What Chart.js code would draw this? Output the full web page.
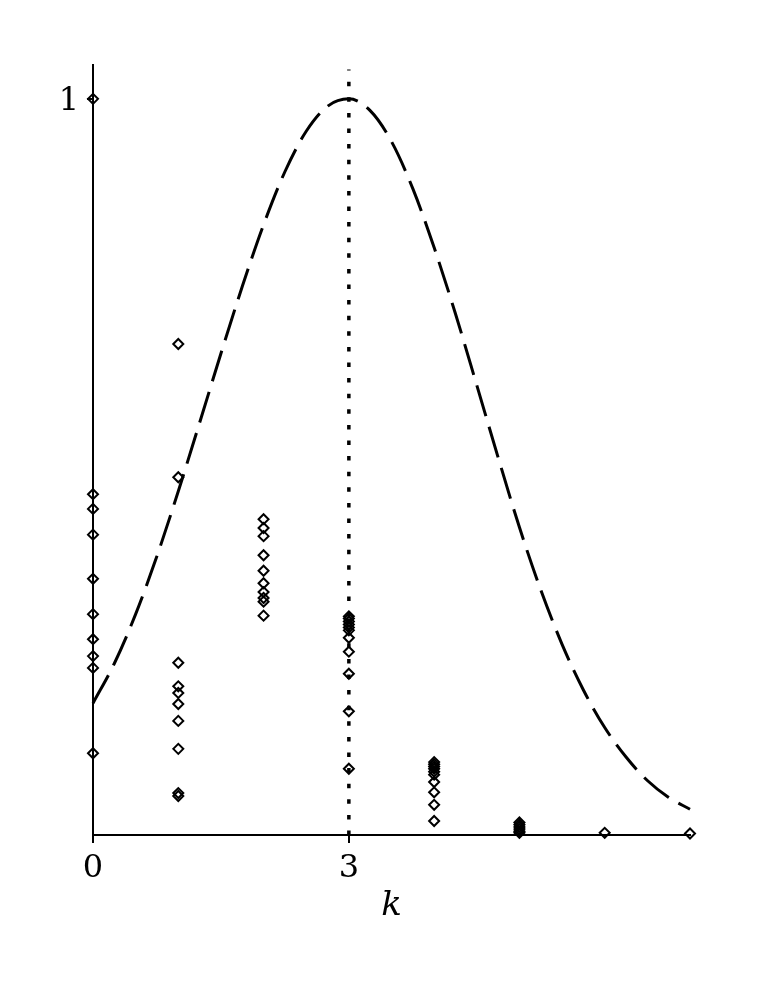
<!DOCTYPE html>
<html>
<head>
<meta charset="utf-8">
<script src="https://cdn.jsdelivr.net/npm/chart.js@4.4.1/dist/chart.umd.min.js"></script>
<style>
  body { margin: 0; background: #fff; }
  canvas { display: block; }
</style>
</head>
<body>
<canvas id="chart" width="763" height="987"></canvas>
<script>
const valsK0 = [1.0, 0.463, 0.443, 0.408, 0.348, 0.300, 0.266, 0.243, 0.227, 0.111];
const valsK1 = [0.667, 0.486, 0.234, 0.202, 0.193, 0.178, 0.155, 0.117, 0.057, 0.053];
const valsK2 = [0.429, 0.417, 0.406, 0.380, 0.359, 0.342, 0.330, 0.322, 0.317, 0.298];
const valsK3 = [0.297, 0.294, 0.290, 0.286, 0.282, 0.278, 0.268, 0.249, 0.219, 0.168, 0.090];
const valsK4 = [0.099, 0.096, 0.093, 0.090, 0.086, 0.082, 0.072, 0.058, 0.041, 0.019];
const valsK5 = [0.017, 0.014, 0.011, 0.008, 0.005, 0.003];
const valsK6 = [0.003];
const valsK7 = [0.002];

// dashed reference curve
const curveK = [0, 0.25, 0.5, 0.75, 1, 1.25, 1.5, 1.75, 2, 2.25, 2.5, 2.75, 3,
  3.25, 3.5, 3.75, 4, 4.25, 4.5, 4.75, 5, 5.25, 5.5, 5.75, 6, 6.25, 6.5, 6.75, 7];
const curveY = [0.179, 0.233, 0.300, 0.379, 0.467, 0.560, 0.654, 0.745, 0.829, 0.901, 0.956, 0.990, 1.0,
  0.984, 0.942, 0.878, 0.798, 0.708, 0.611, 0.513, 0.418, 0.333, 0.259, 0.197, 0.146, 0.106, 0.074, 0.051, 0.035];

// vertical marker at k = 3
const markerK = 3;
const markerTop = 1.04;

const xTicks = [0, 3];
const yTicks = [1];

const groups = [valsK0, valsK1, valsK2, valsK3, valsK4, valsK5, valsK6, valsK7];
const scatterPts = [];
groups.forEach((vals, k) => vals.forEach(v => scatterPts.push({ x: k, y: v })));

const serif = 'DejaVu Serif';

new Chart(document.getElementById('chart'), {
  type: 'scatter',
  data: {
    datasets: [
      {
        data: curveK.map((k, i) => ({ x: k, y: curveY[i] })),
        showLine: true,
        pointRadius: 0,
        borderColor: '#000',
        borderWidth: 3,
        borderDash: [32, 11],
        cubicInterpolationMode: 'monotone',
        clip: false
      },
      {
        data: [{ x: markerK, y: 0 }, { x: markerK, y: markerTop }],
        showLine: true,
        pointRadius: 0,
        borderColor: '#000',
        borderWidth: 3.5,
        borderDash: [4.5, 11.1],
        clip: false
      },
      {
        data: scatterPts,
        pointStyle: 'rectRot',
        pointRadius: 5,
        pointBorderWidth: 2,
        borderColor: '#000',
        backgroundColor: 'rgba(0,0,0,0)',
        clip: false
      }
    ]
  },
  options: {
    responsive: false,
    animation: false,
    layout: { padding: { top: 65, right: 73, left: 0, bottom: 0 } },
    plugins: {
      legend: { display: false },
      tooltip: { enabled: false }
    },
    scales: {
      x: {
        type: 'linear',
        min: 0,
        max: 7,
        afterBuildTicks: s => { s.ticks = xTicks.map(v => ({ value: v })); },
        afterFit: s => { s.height = 152; },
        border: { display: true, color: '#000', width: 2 },
        grid: { drawOnChartArea: false, drawTicks: true, tickLength: 8, color: '#000', lineWidth: 2 },
        ticks: { color: '#000', padding: 6, maxRotation: 0, font: { family: serif, size: 32 } },
        title: {
          display: true,
          text: 'k',
          color: '#000',
          font: { family: serif, style: 'italic', size: 34 },
          padding: { top: 0, bottom: 60 }
        }
      },
      y: {
        type: 'linear',
        min: 0,
        max: 1.046,
        afterBuildTicks: s => { s.ticks = yTicks.map(v => ({ value: v })); },
        afterFit: s => { s.width = 93; },
        border: { display: true, color: '#000', width: 2 },
        grid: { drawOnChartArea: false, drawTicks: true, tickLength: 6, color: '#000', lineWidth: 2 },
        ticks: { color: '#000', padding: 8, labelOffset: 3, font: { family: serif, size: 32 } }
      }
    }
  }
});
</script>
</body>
</html>
